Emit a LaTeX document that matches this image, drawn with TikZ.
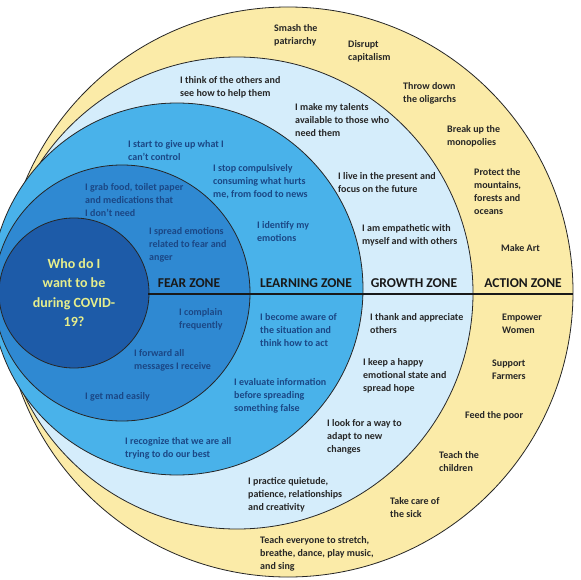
\documentclass[tikz,border=0pt]{standalone}
\usepackage{fontspec}
\setsansfont{Carlito}
\renewcommand{\familydefault}{\sfdefault}
\definecolor{actionyel}{HTML}{FBEBA8}
\definecolor{growthblu}{HTML}{D5EDFB}
\definecolor{learnblu}{HTML}{49B2EA}
\definecolor{fearblu}{HTML}{2F89D2}
\definecolor{coreblu}{HTML}{1D5BA8}
\definecolor{navytext}{HTML}{1B4785}
\definecolor{coretext}{HTML}{E6EE8C}

\begin{document}
\begin{tikzpicture}[x=1pt, y=-1pt,
  ring/.style={draw=black!85, line width=0.8pt},
  txt/.style={anchor=base west, align=left, inner sep=0pt, font=\fontsize{10}{13}\selectfont\bfseries},
  dark/.style={txt, text=black!85},
  blu/.style={txt, text=navytext},
  zone/.style={anchor=base, inner sep=0pt, font=\fontsize{13.5}{15}\selectfont\bfseries, text=black!90}
]
\useasboundingbox (0,0) rectangle (580,580);
\fill[white] (0,0) rectangle (580,580);

% rings, outer to inner
\draw[ring, fill=actionyel] (288,292) circle[radius=285];
\draw[ring, fill=growthblu] (237,293) circle[radius=236];
\draw[ring, fill=learnblu] (177,289) circle[radius=186];
\draw[ring, fill=fearblu] (122,293) circle[radius=128];
\draw[ring, fill=coreblu] (74,293) circle[radius=75];

% divider
\coordinate (lineL) at (148,294);
\coordinate (lineR) at (573,294);
\draw[line width=2.6pt, black!90] (lineL) -- (lineR);

% centre (base = last line)
\node[anchor=base, align=center, inner sep=0pt, text=coretext,
  font=\fontsize{14}{19.5}\selectfont\bfseries] (core) at (74,326.5)
  {Who do I\\want to be\\during COVID-\\19?};

% zone labels
\node[zone] (fearz) at (189,287) {FEAR ZONE};
\node[zone] (learnz) at (306,287) {LEARNING ZONE};
\node[zone] (growthz) at (414,287) {GROWTH ZONE};
\node[zone] (actionz) at (523,287) {ACTION ZONE};

% fear zone
\node[blu] (grab) at (85,216.5) {I grab food, toilet paper\\and medications that\\I don't need};
\node[blu] (spread) at (149,260.5) {I spread emotions\\related to fear and\\anger};
\node[blu] (complain) at (179,328.5) {I complain\\frequently};
\node[blu] (forward) at (134,369.5) {I forward all\\messages I receive};
\node[blu] (mad) at (85,399.5) {I get mad easily};

% learning zone
\node[blu] (giveup) at (128,160.5) {I start to give up what I\\can't control};
\node[blu] (stopc) at (213,197.5) {I stop compulsively\\consuming what hurts\\me, from food to news};
\node[blu] (identify) at (257,241.5) {I identify my\\emotions};
\node[blu] (aware) at (260,346.5) {I become aware of\\the situation and\\think how to act};
\node[blu] (evaluate) at (234,411.5) {I evaluate information\\before spreading\\something false};
\node[blu] (recognize) at (125,457.5) {I recognize that we are all\\trying to do our best};

% growth zone
\node[dark] (think) at (180,96.5) {I think of the others and\\see how to help them};
\node[dark] (talents) at (295,136.5) {I make my talents\\available to those who\\need them};
\node[dark] (live) at (338,192.5) {I live in the present and\\focus on the future};
\node[dark] (empath) at (362,244.5) {I am empathetic with\\myself and with others};
\node[dark] (thank) at (370,333.5) {I thank and appreciate\\others};
\node[dark] (happy) at (363,391.5) {I keep a happy\\emotional state and\\spread hope};
\node[dark] (adapt) at (327,452.5) {I look for a way to\\adapt to new\\changes};
\node[dark] (quiet) at (248,510.5) {I practice quietude,\\patience, relationships\\and creativity};

% action zone
\node[dark] (smash) at (274,44.5) {Smash the\\patriarchy};
\node[dark] (disrupt) at (348,60.5) {Disrupt\\capitalism};
\node[dark] (throw) at (403,102.5) {Throw down\\the oligarchs};
\node[dark] (breakup) at (447,145.5) {Break up the\\monopolies};
\node[dark] (protect) at (474,214.5) {Protect the\\mountains,\\forests and\\oceans};
\node[dark] (makeart) at (501,251.5) {Make Art};
\node[dark] (empower) at (502,333.5) {Empower\\Women};
\node[dark] (support) at (492,379.5) {Support\\Farmers};
\node[dark] (feed) at (465,418.5) {Feed the poor};
\node[dark] (teachch) at (439,471.5) {Teach the\\children};
\node[dark] (takecare) at (390,517.5) {Take care of\\the sick};
\node[dark] (teachall) at (260,569.5) {Teach everyone to stretch,\\breathe, dance, play music,\\and sing};
\end{tikzpicture}
\end{document}
